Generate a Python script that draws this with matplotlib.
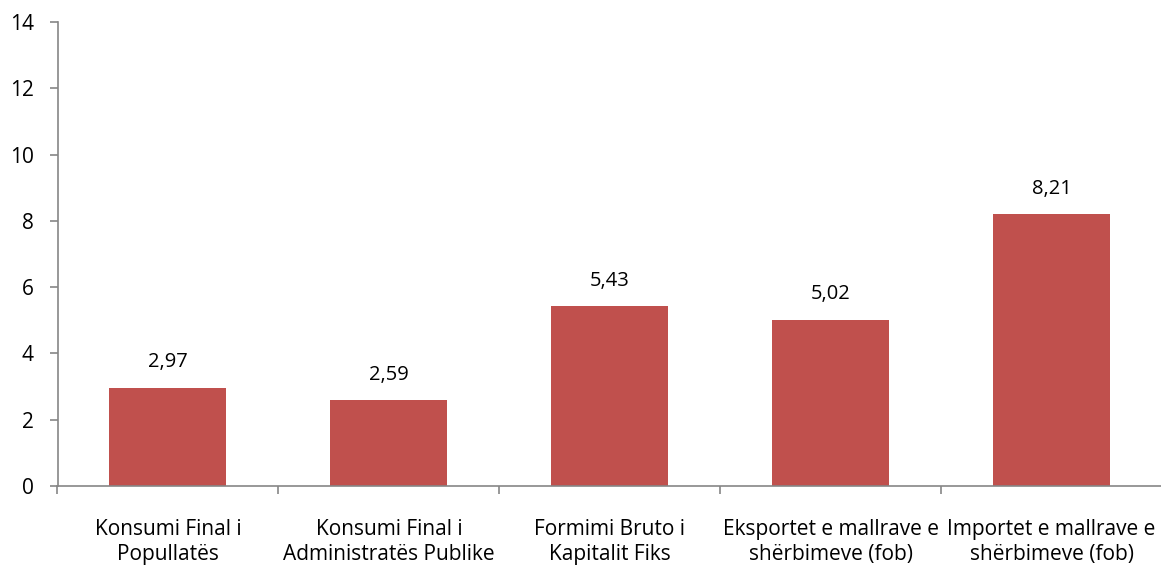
import matplotlib
matplotlib.use("Agg")
import matplotlib.pyplot as plt

categories = ["Konsumi Final i\nPopullatës", "Konsumi Final i\nAdministratës Publike",
              "Formimi Bruto i\nKapitalit Fiks", "Eksportet e mallrave e\nshërbimeve (fob)",
              "Importet e mallrave e\nshërbimeve (fob)"]
values = [2.97, 2.59, 5.43, 5.02, 8.21]
yticks = [0, 2, 4, 6, 8, 10, 12, 14]

plt.rcParams['font.family'] = ['Open Sans', 'DejaVu Sans']
fig = plt.figure(figsize=(11.61, 5.65), dpi=100)
ax = fig.add_axes([57.5/1161, 79/565, (1162-57.5)/1161, 464/565])
x = list(range(len(categories)))
ax.bar(x, values, width=0.53, color="#C0504D", zorder=2)
for xi, v in zip(x, values):
    ax.annotate(f"{v:.2f}".replace(".", ","), (xi, v), xytext=(0, 11), textcoords="offset points",
                ha="center", va="bottom", fontsize=14.5, color="black")
ax.set_xlim(-0.5, len(categories) - 0.5)
ax.set_ylim(0, 14)
ax.set_yticks(yticks)
ax.set_yticklabels([str(t) for t in yticks], fontsize=15)
ax.set_xticks(x)
ax.set_xticklabels(categories, fontsize=15, linespacing=1.25)
ax.tick_params(axis='x', length=0, pad=24)
ax.set_xticks([i - 0.5 for i in range(len(categories) + 1)], minor=True)
ax.tick_params(axis='x', which='minor', length=6, color="#868686", width=1.2)
ax.tick_params(axis='y', length=6, color="#868686", width=1.2, pad=11)
for s in ["top", "right"]:
    ax.spines[s].set_visible(False)
for s in ["left", "bottom"]:
    ax.spines[s].set_color("#868686")
    ax.spines[s].set_linewidth(1.2)
fig.savefig("out.png", dpi=100)
